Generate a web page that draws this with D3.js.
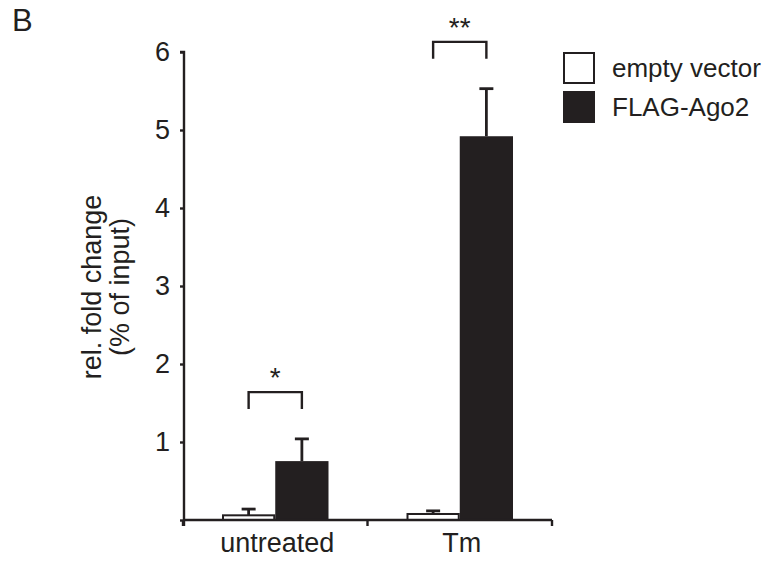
<!DOCTYPE html>
<html>
<head>
<meta charset="utf-8">
<script src="https://cdn.jsdelivr.net/npm/d3@7"></script>
<style>
  html, body { margin: 0; padding: 0; background: #fff; }
  svg { display: block; font-family: "Liberation Sans", Arial, Helvetica, sans-serif; }
</style>
</head>
<body>
<svg id="chart" width="771" height="563"></svg>
<script>
// ---- data ----
const categories = ["untreated", "Tm"];
const series = ["empty vector", "FLAG-Ago2"];
const emptyVector = [0.06, 0.077];
const emptyVectorErr = [0.08, 0.04];
const flagAgo2 = [0.755, 4.92];
const flagAgo2Err = [0.285, 0.61];
const yTicks = [0, 1, 2, 3, 4, 5, 6];
const sigLabels = ["*", "**"];
const yLabelLines = ["rel. fold change", "(% of input)"];
const panelLabel = "B";

// ---- styles ----
const ink = "#231f20";
const seriesFill = ["#ffffff", ink];

const svg = d3.select("#chart");

const y = d3.scaleLinear().domain([0, 6]).range([520, 52]);
const x0 = d3.scaleBand().domain(categories).range([183, 552]).padding(0);
const x1 = d3.scaleBand().domain(series).range([39, x0.bandwidth() - 39]).padding(0);

const rows = categories.map((c, i) => ({
  cat: c,
  vals: [
    { s: series[0], v: emptyVector[i], e: emptyVectorErr[i] },
    { s: series[1], v: flagAgo2[i], e: flagAgo2Err[i] }
  ],
  sig: sigLabels[i]
}));

// panel label
svg.append("text").attr("x", 12).attr("y", 31)
  .attr("font-size", 31).attr("fill", ink).text(panelLabel);

// bars
const g = svg.append("g");
const grp = g.selectAll("g.grp").data(rows).join("g")
  .attr("class", "grp")
  .attr("transform", d => `translate(${x0(d.cat)},0)`);

grp.selectAll("line.err").data(d => d.vals).join("line")
  .attr("class", "err")
  .attr("x1", d => x1(d.s) + x1.bandwidth() / 2)
  .attr("x2", d => x1(d.s) + x1.bandwidth() / 2)
  .attr("y1", d => y(d.v))
  .attr("y2", d => y(d.v + d.e))
  .attr("stroke", ink).attr("stroke-width", 2.8);

grp.selectAll("line.cap").data(d => d.vals).join("line")
  .attr("class", "cap")
  .attr("x1", d => x1(d.s) + x1.bandwidth() / 2 - 7)
  .attr("x2", d => x1(d.s) + x1.bandwidth() / 2 + 7)
  .attr("y1", d => y(d.v + d.e))
  .attr("y2", d => y(d.v + d.e))
  .attr("stroke", ink).attr("stroke-width", 2.8);

grp.selectAll("rect").data(d => d.vals).join("rect")
  .attr("x", (d, i) => x1(d.s) + (i === 0 ? 1 : 0))
  .attr("width", (d, i) => x1.bandwidth() - (i === 0 ? 2 : 0))
  .attr("y", d => y(d.v))
  .attr("height", d => y(0) - y(d.v))
  .attr("fill", (d, i) => seriesFill[i])
  .attr("stroke", ink)
  .attr("stroke-width", (d, i) => i === 0 ? 2 : 0);

// significance brackets
grp.each(function (d) {
  const top = d3.max(d.vals, v => v.v + v.e) + 0.6;
  const xa = x1(series[0]) + x1.bandwidth() / 2;
  const xb = x1(series[1]) + x1.bandwidth() / 2;
  const yt = y(top);
  const sel = d3.select(this);
  sel.append("path")
    .attr("d", `M${xa},${yt + 17}V${yt}H${xb}V${yt + 17}`)
    .attr("fill", "none").attr("stroke", ink).attr("stroke-width", 2.4);
  sel.append("text")
    .attr("x", (xa + xb) / 2).attr("y", yt - 5)
    .attr("text-anchor", "middle").attr("font-size", 28).attr("fill", ink)
    .text(d.sig);
});

// y axis
const yAxis = svg.append("g").attr("transform", "translate(184,0)")
  .call(d3.axisLeft(y).tickValues(yTicks).tickSize(4).tickPadding(10)
    .tickFormat(v => v === 0 ? "" : d3.format("d")(v)));
yAxis.select(".domain").attr("stroke", ink).attr("stroke-width", 2.4)
  .attr("d", `M-4,${y(6)}H0V${y(0) + 6}`);
yAxis.selectAll(".tick line").attr("stroke", ink).attr("stroke-width", 2.4);
yAxis.selectAll(".tick text").attr("font-size", 27).attr("fill", ink)
  .attr("font-family", "Liberation Sans, Arial, sans-serif");

// x axis
const xAxis = svg.append("g").attr("transform", `translate(0,${y(0)})`)
  .call(d3.axisBottom(x0).tickSize(0).tickPadding(13));
xAxis.select(".domain").remove();
xAxis.selectAll(".tick text").attr("font-size", 27).attr("fill", ink)
  .attr("font-family", "Liberation Sans, Arial, sans-serif")
  .attr("dx", 2);
const bounds = [x0.range()[0]].concat(categories.map(c => x0(c) + x0.bandwidth()));
xAxis.append("line")
  .attr("x1", x0.range()[0]).attr("x2", x0.range()[1])
  .attr("y1", 0).attr("y2", 0)
  .attr("stroke", ink).attr("stroke-width", 2.6);
xAxis.selectAll("line.bt").data(bounds).join("line")
  .attr("class", "bt")
  .attr("x1", d => d).attr("x2", d => d)
  .attr("y1", 0).attr("y2", 6)
  .attr("stroke", ink).attr("stroke-width", 2.4);

// y label
const yl = svg.append("text")
  .attr("transform", "translate(0,287) rotate(-90)")
  .attr("text-anchor", "middle").attr("font-size", 27).attr("fill", ink);
yl.selectAll("tspan").data(yLabelLines).join("tspan")
  .attr("x", 0).attr("y", (d, i) => i === 0 ? 101 : 129)
  .text(d => d);

// legend
const lg = svg.append("g").attr("transform", "translate(563,52)");
const li = lg.selectAll("g").data(series).join("g")
  .attr("transform", (d, i) => `translate(0,${i * 39})`);
li.append("rect")
  .attr("x", (d, i) => i === 0 ? 1 : 0).attr("y", (d, i) => i === 0 ? 1 : 0)
  .attr("width", (d, i) => i === 0 ? 30 : 32).attr("height", (d, i) => i === 0 ? 30 : 32)
  .attr("fill", (d, i) => seriesFill[i])
  .attr("stroke", ink).attr("stroke-width", (d, i) => i === 0 ? 2 : 0);
li.append("text")
  .attr("x", 49).attr("y", 25)
  .attr("font-size", 26).attr("fill", ink)
  .text(d => d);
</script>
</body>
</html>
